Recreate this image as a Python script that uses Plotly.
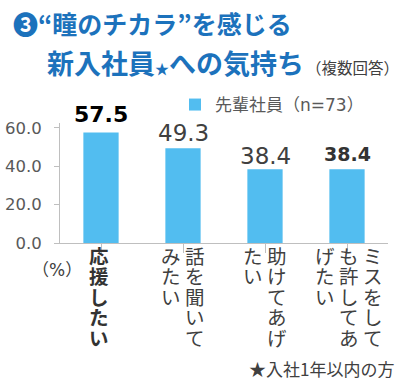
import plotly.graph_objects as go

# ---- data ----
categories = ["応援したい", "話を聞いてみたい", "助けてあげたい", "ミスをしても許してあげたい"]
values = [57.5, 49.3, 38.4, 38.4]
series_name = "先輩社員（n=73）"
y_ticks = [0, 20, 40, 60]
title_line1 = "❸“瞳のチカラ”を感じる"
title_line2 = "新入社員<span style='font-size:14px'>★</span>への気持ち"
title_note = "（複数回答）"
unit_label = "（%）"
footnote = "★入社1年以内の方"

W, H = 400, 384
L, R, T, B = 60, 12, 123, 141
PW, PH = W - L - R, H - T - B

def px(xp):
    return (xp - L) / PW

def py(yp):
    return (H - B - yp) / PH

JP = "Noto Sans CJK JP"
MIX = "DejaVu Sans, Noto Sans CJK JP"
NUM = "DejaVu Sans"
BLUE = "#1C72BC"
BAR = "#52BDF0"

fig = go.Figure()
fig.add_trace(go.Bar(
    x=list(range(len(categories))), y=values, name=series_name,
    marker=dict(color=BAR, line=dict(width=0)), width=0.43, showlegend=True,
))

ann = []
# data labels
label_styles = [
    dict(size=22, weight="bold", color="#000000"),
    dict(size=23, weight="normal", color="#404040"),
    dict(size=23, weight="normal", color="#404040"),
    dict(size=19, weight="bold", color="#333333"),
]
label_off = [4, 0, -2, 2]
for i, v in enumerate(values):
    st = label_styles[i]
    ann.append(dict(x=i, y=v, xref="x", yref="y", text=f"{v:.1f}", showarrow=False,
                    yanchor="bottom", yshift=label_off[i],
                    font=dict(family=NUM, size=st["size"], color=st["color"], weight=st["weight"])))

# vertical category labels (columns right-to-left, 5 chars each)
CH = 5
for i, lab in enumerate(categories):
    cols = [lab[k:k + CH] for k in range(0, len(lab), CH)]
    n = len(cols)
    bold = (i == 0)
    for c, col in enumerate(cols):
        off = (n - 1) / 2 * 24 - c * 24 + (2 if n == 3 else 0) + (-2 if n == 1 else 0)
        for r, ch in enumerate(col):
            ann.append(dict(x=i, xref="x", xshift=off, y=py(255 + r * 20.5), yref="paper",
                            text=ch, showarrow=False, xanchor="center", yanchor="middle",
                            font=dict(family=JP, size=19.5, color="#333333" if bold else "#404040",
                                      weight="bold" if bold else "normal")))

# titles and notes
ann.append(dict(x=px(11), y=py(23), xref="paper", yref="paper", text=title_line1, showarrow=False,
                xanchor="left", yanchor="middle",
                font=dict(family=JP, size=25, color=BLUE, weight="bold")))
ann.append(dict(x=px(45), y=py(62), xref="paper", yref="paper", text=title_line2, showarrow=False,
                xanchor="left", yanchor="middle",
                font=dict(family=JP, size=27, color=BLUE, weight="bold")))
ann.append(dict(x=px(304), y=py(67), xref="paper", yref="paper", text=title_note, showarrow=False,
                xanchor="left", yanchor="middle",
                font=dict(family=JP, size=15.5, color="#404040")))
ann.append(dict(x=px(30), y=py(270), xref="paper", yref="paper", text=unit_label, showarrow=False,
                xanchor="left", yanchor="middle",
                font=dict(family=MIX, size=17, color="#404040")))
ann.append(dict(x=px(396), y=py(368), xref="paper", yref="paper", text=footnote, showarrow=False,
                xanchor="right", yanchor="middle",
                font=dict(family=JP, size=17, color="#404040")))

fig.update_layout(
    width=W, height=H, margin=dict(l=L, r=R, t=T, b=B, pad=0, autoexpand=False),
    paper_bgcolor="white", plot_bgcolor="white",
    annotations=ann,
    showlegend=True,
    legend=dict(x=px(175), y=py(105), xanchor="left", yanchor="middle",
                font=dict(family=MIX, size=17, color="#595959"),
                bgcolor="rgba(0,0,0,0)", itemwidth=30, tracegroupgap=0),
    xaxis=dict(range=[-0.5, len(categories) - 0.5], showticklabels=False, tickmode="array",
               tickvals=list(range(len(categories))), tickson="boundaries",
               ticks="outside", ticklen=9, tickcolor="#BFBFBF", automargin=False,
               showline=True, linecolor="#BFBFBF", linewidth=1, showgrid=False, zeroline=False,
               fixedrange=True),
    yaxis=dict(range=[0, 62.5], tickvals=y_ticks, tickformat=".1f",
               ticks="outside", ticklen=5, tickcolor="#BFBFBF", ticklabelstandoff=9,
               automargin=False,
               tickfont=dict(family=NUM, size=16.5, color="#595959"),
               showline=True, linecolor="#BFBFBF", linewidth=1, showgrid=False, zeroline=False,
               fixedrange=True),
)

fig.write_html("out.html", config={"displayModeBar": False},
               post_script="document.body.style.margin='0';document.body.style.padding='0';")
